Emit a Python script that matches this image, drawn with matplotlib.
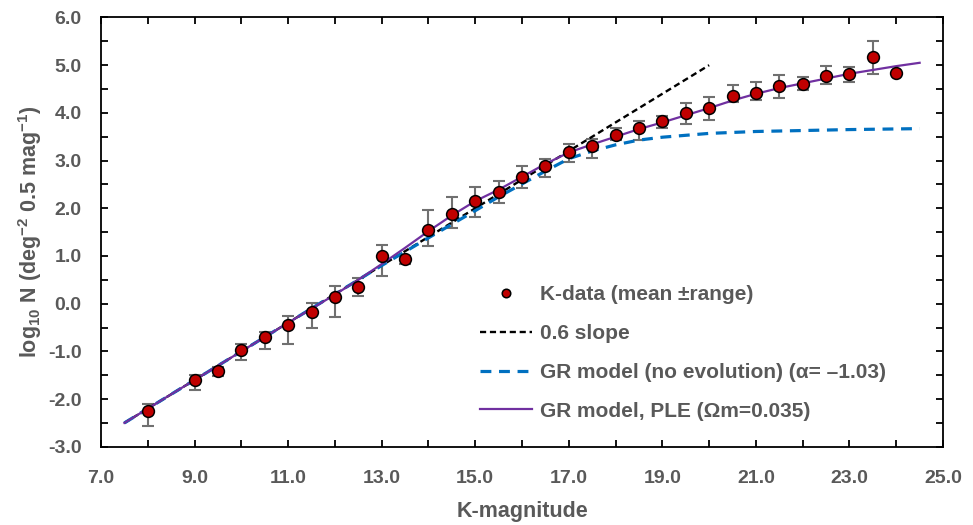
import numpy as np
import matplotlib
matplotlib.use('Agg')
import matplotlib.pyplot as plt
from matplotlib.ticker import MultipleLocator, FormatStrFormatter

plt.rcParams['font.family'] = ['Liberation Sans', 'DejaVu Sans']
plt.rcParams['mathtext.fontset'] = 'custom'
plt.rcParams['mathtext.rm'] = 'Liberation Sans:bold'
plt.rcParams['mathtext.default'] = 'rm'

# K-band counts (mean and range)
kmag = [8.0, 9.0, 9.5, 10.0, 10.5, 11.0, 11.5, 12.0, 12.5, 13.0, 13.5, 14.0, 14.5, 15.0,
        15.5, 16.0, 16.5, 17.0, 17.5, 18.0, 18.5, 19.0, 19.5, 20.0, 20.5, 21.0, 21.5,
        22.0, 22.5, 23.0, 23.5, 24.0]
logn = [-2.26, -1.60, -1.41, -0.97, -0.70, -0.45, -0.17, 0.15, 0.34, 1.00, 0.94, 1.55, 1.87, 2.16,
        2.35, 2.65, 2.89, 3.17, 3.31, 3.54, 3.68, 3.83, 3.99, 4.11, 4.35, 4.42, 4.57,
        4.61, 4.78, 4.82, 5.18, 4.83]
err_hi = [-2.10, -1.50, -1.32, -0.85, -0.59, -0.25, 0.01, 0.38, 0.53, 1.23, 1.00, 1.96, 2.24, 2.45,
          2.57, 2.89, 3.03, 3.35, 3.45, 3.68, 3.84, 3.94, 4.20, 4.33, 4.58, 4.64, 4.79,
          4.75, 4.98, 4.97, 5.51, 4.83]
err_lo = [-2.56, -1.81, -1.52, -1.18, -0.94, -0.85, -0.50, -0.27, 0.17, 0.59, 0.83, 1.21, 1.59, 1.82,
          2.12, 2.42, 2.65, 2.96, 3.05, 3.43, 3.43, 3.68, 3.76, 3.86, 4.22, 4.27, 4.31,
          4.47, 4.61, 4.64, 4.82, 4.83]

# 0.6 slope line
slope_x = [7.5, 20.0]
slope_y = [-2.5, 5.0]

# GR model, no evolution
gr_x = [7.5, 9.0, 11.0, 13.0, 14.0, 15.0, 15.5, 16.0, 16.5, 17.0, 17.5, 18.0, 18.5, 19.0,
        19.5, 20.0, 21.0, 22.0, 23.0, 24.5]
gr_y = [-2.5, -1.6, -0.4, 0.8, 1.38, 1.95, 2.24, 2.51, 2.78, 3.04, 3.2, 3.33, 3.43, 3.49,
        3.53, 3.57, 3.61, 3.63, 3.65, 3.67]

# GR model, PLE
ple_x = [7.5, 9.0, 10.0, 11.0, 12.0, 12.5, 13.0, 13.5, 14.0, 14.5, 15.0, 15.5, 16.0, 16.5,
         17.0, 17.5, 18.0, 18.5, 19.0, 19.5, 20.0, 20.5, 21.0, 21.5, 22.0, 22.5, 23.0,
         23.5, 24.0, 24.5]
ple_y = [-2.5, -1.6, -1.0, -0.4, 0.19, 0.5, 0.83, 1.17, 1.52, 1.85, 2.15, 2.39, 2.66, 2.93,
         3.17, 3.34, 3.5, 3.66, 3.8, 3.95, 4.1, 4.26, 4.4, 4.52, 4.62, 4.72, 4.82,
         4.9, 4.98, 5.05]

grey = '#595959'

fig = plt.figure(figsize=(9.73, 5.25), dpi=100)
ax = fig.add_axes([0.1038, 0.149, 0.8654, 0.8177])

kmag = np.array(kmag)
logn = np.array(logn)
yerr = [logn - np.array(err_lo), np.array(err_hi) - logn]
ax.errorbar(kmag[:-1], logn[:-1], yerr=[yerr[0][:-1], yerr[1][:-1]], fmt='none',
            ecolor='#707070', elinewidth=1.5, capsize=4, capthick=1.5, zorder=2)

ax.plot(slope_x, slope_y, color='black', ls=(0, (2.6, 1.6)), lw=1.7, zorder=3, label='0.6 slope')
ax.plot(gr_x, gr_y, color='#0070C0', ls=(0, (3.4, 2.4)), lw=2.3, zorder=3,
        label='GR model (no evolution) (\u03b1= \u20131.03)')
ax.plot(ple_x, ple_y, color='#7030A0', lw=1.6, zorder=4, label='GR model, PLE (\u03a9m=0.035)')
ax.plot(kmag, logn, 'o', ms=8.5, mfc='#C00000', mec='black', mew=1.1, ls='none', zorder=5,
        label='K-data (mean \u00b1range)')

ax.set_xlim(7, 25)
ax.set_ylim(-3, 6)
ax.set_xticks(np.arange(7, 25.1, 2))
ax.xaxis.set_minor_locator(MultipleLocator(1))
ax.yaxis.set_major_locator(MultipleLocator(1))
ax.yaxis.set_minor_locator(MultipleLocator(0.5))
ax.xaxis.set_major_formatter(FormatStrFormatter('%.1f'))
ax.yaxis.set_major_formatter(FormatStrFormatter('%.1f'))
ax.tick_params(which='both', direction='in', top=True, right=True, length=5, width=1.3,
               colors='black', labelcolor=grey, labelsize=14)
ax.tick_params(axis='x', pad=17)
ax.tick_params(axis='y', pad=14)
for lab in ax.get_xticklabels() + ax.get_yticklabels():
    lab.set_fontweight('bold')
for s in ax.spines.values():
    s.set_linewidth(1.3)

ax.set_xlabel('K-magnitude', fontsize=15.5, fontweight='bold', color=grey, labelpad=10)
ax.set_ylabel('log$_{10}$ N (deg$^{-2}$ 0.5 mag$^{-1}$)', fontsize=15.5, fontweight='bold',
              color=grey, labelpad=3)

h, l = ax.get_legend_handles_labels()
order = [3, 0, 1, 2]
leg = ax.legend([h[i] for i in order], [l[i] for i in order], frameon=False,
                loc='upper left', bbox_to_anchor=(0.428, 0.42), handlelength=2.5,
                handletextpad=0.35, labelspacing=0.95, markerscale=0.72,
                prop={'weight': 'bold', 'size': 15})
for t in leg.get_texts():
    t.set_color(grey)

fig.savefig('out.png', dpi=100)
